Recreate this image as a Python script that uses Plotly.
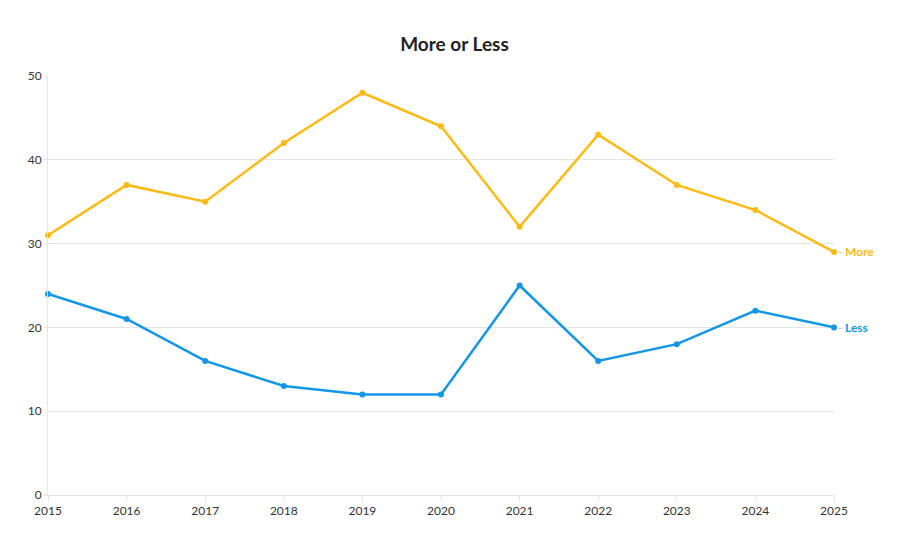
import plotly.graph_objects as go

years = [2015, 2016, 2017, 2018, 2019, 2020, 2021, 2022, 2023, 2024, 2025]
more = [31, 37, 35, 42, 48, 44, 32, 43, 37, 34, 29]
less = [24, 21, 16, 13, 12, 12, 25, 16, 18, 22, 20]
y_ticks = [0, 10, 20, 30, 40, 50]

MORE_C = "#FDBA12"
LESS_C = "#1296E8"
FONT = "Lato, 'Noto Sans', sans-serif"

fig = go.Figure()
fig.add_trace(go.Scatter(x=years, y=more, mode="lines+markers", name="More", cliponaxis=False,
                         line=dict(color=MORE_C, width=2.5), marker=dict(size=6, color=MORE_C)))
fig.add_trace(go.Scatter(x=years, y=less, mode="lines+markers", name="Less", cliponaxis=False,
                         line=dict(color=LESS_C, width=2.5), marker=dict(size=6, color=LESS_C)))

for name, vals, col in [("More", more, MORE_C), ("Less", less, LESS_C)]:
    fig.add_annotation(x=years[-1], y=vals[-1], text=f"<b>{name}</b>", showarrow=False,
                       xanchor="left", yanchor="middle", xshift=9,
                       font=dict(family=FONT, size=12, color=col))
    fig.add_annotation(x=years[-1], y=vals[-1], text="-", showarrow=False,
                       xanchor="left", yanchor="middle", xshift=2,
                       font=dict(family=FONT, size=12, color="#bbbbbb"))

fig.update_layout(
    width=900, height=550,
    margin=dict(l=48, r=66, t=76, b=55),
    paper_bgcolor="white", plot_bgcolor="white",
    showlegend=False,
    title=dict(text="<b>More or Less</b>", x=0.505, xanchor="center", y=0.92, yanchor="middle",
               font=dict(family=FONT, size=19, color="#222222")),
    font=dict(family=FONT, size=12, color="#333333"),
)
fig.update_xaxes(range=[2015, 2025], tickvals=years, ticktext=[str(y) for y in years],
                 showgrid=False, showline=True, linecolor="#e6e6e6", linewidth=1,
                 ticks="outside", ticklen=5, tickcolor="#e6e6e6", zeroline=False,
                 tickfont=dict(size=12, color="#333333"))
fig.update_yaxes(range=[0, 50], tickvals=y_ticks, showgrid=True, gridcolor="#e6e6e6",
                 showline=True, linecolor="#e6e6e6", ticks="outside", ticklen=3,
                 tickcolor="#e6e6e6", zeroline=False, tickfont=dict(size=12, color="#333333"))

fig.write_html("out.html")
